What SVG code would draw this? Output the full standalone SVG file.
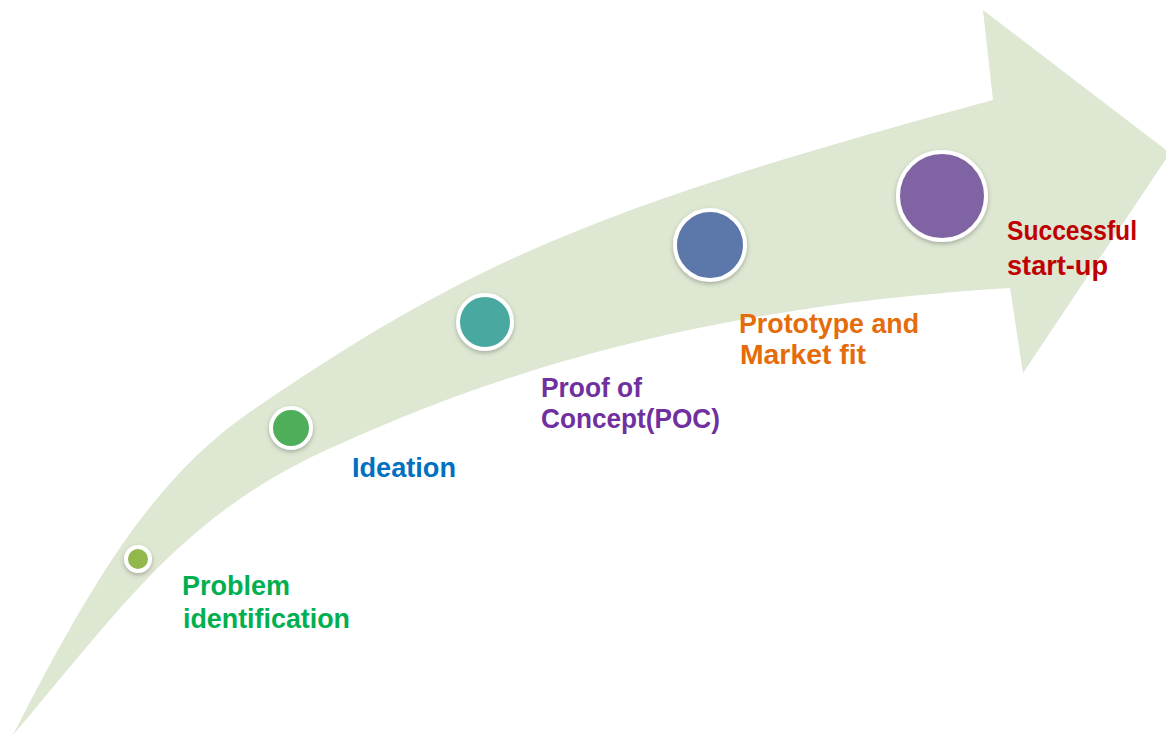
<svg xmlns="http://www.w3.org/2000/svg" width="1166" height="737" viewBox="0 0 1166 737">
<style>
.lbl{font-family:"Liberation Sans",Arial,sans-serif;font-weight:bold;font-size:27px}
.dot{stroke:#ffffff;stroke-width:4;filter:url(#sh)}
</style>
<defs>
<filter id="sh" x="-30%" y="-30%" width="160%" height="170%">
<feDropShadow dx="0" dy="2" stdDeviation="2" flood-color="#555" flood-opacity="0.4"/>
</filter>
</defs>
<rect width="1166" height="737" fill="#ffffff"/>
<g id="connectors">
<path d="M13,735 C95,575 155,478 250,412 C477,256 613,203 993,100 L983,10 L1170,153 L1023,373 L1010,288 C660,309 453,393 333,447 C183,514 123,606 13,735 Z" fill="#dde7d1"/>
</g>
<g id="node-problem">
<circle class="dot" cx="138" cy="559" r="12" fill="#92b74b"/>
<text class="lbl" fill="#00b050" x="182" y="595" textLength="108" lengthAdjust="spacingAndGlyphs">Problem</text>
<text class="lbl" fill="#00b050" x="183" y="628" textLength="167" lengthAdjust="spacingAndGlyphs">identification</text>
</g>
<g id="node-ideation">
<circle class="dot" cx="291" cy="428" r="20" fill="#4fae5a"/>
<text class="lbl" fill="#0070c0" x="352" y="477" textLength="104" lengthAdjust="spacingAndGlyphs">Ideation</text>
</g>
<g id="node-poc">
<circle class="dot" cx="485" cy="322" r="27" fill="#4aa9a0"/>
<text class="lbl" fill="#7030a0" x="541" y="397" textLength="101" lengthAdjust="spacingAndGlyphs">Proof of</text>
<text class="lbl" fill="#7030a0" x="541" y="428" textLength="179" lengthAdjust="spacingAndGlyphs">Concept(POC)</text>
</g>
<g id="node-prototype">
<circle class="dot" cx="710" cy="245" r="35" fill="#5b77a9"/>
<text class="lbl" fill="#e46c0a" x="739" y="333" textLength="180" lengthAdjust="spacingAndGlyphs">Prototype and</text>
<text class="lbl" fill="#e46c0a" x="740" y="364" textLength="126" lengthAdjust="spacingAndGlyphs">Market fit</text>
</g>
<g id="node-startup">
<circle class="dot" cx="942" cy="196" r="44" fill="#8064a2"/>
<text class="lbl" fill="#c00000" x="1007" y="240" textLength="130" lengthAdjust="spacingAndGlyphs">Successful</text>
<text class="lbl" fill="#c00000" x="1007" y="275" textLength="101" lengthAdjust="spacingAndGlyphs">start-up</text>
</g>
</svg>
